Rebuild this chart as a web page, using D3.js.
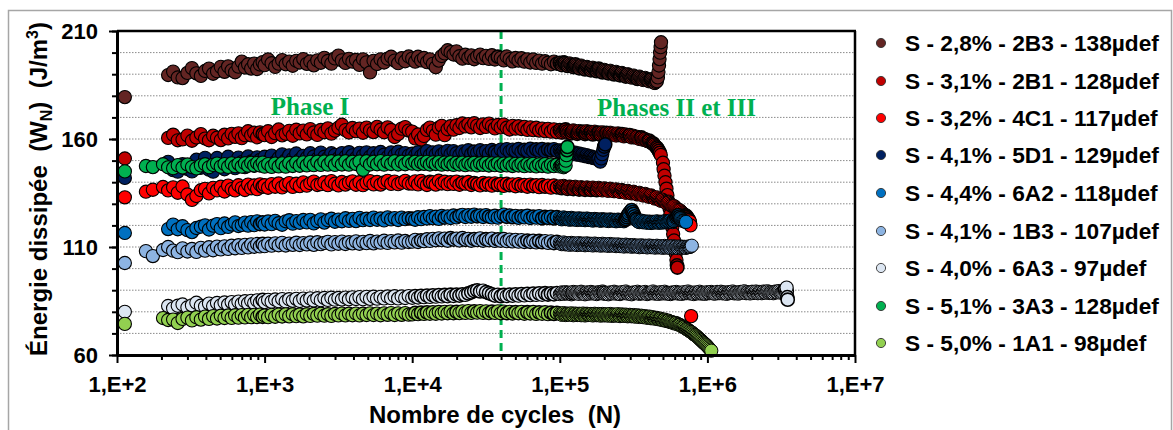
<!DOCTYPE html>
<html><head><meta charset="utf-8">
<script src="https://cdn.jsdelivr.net/npm/d3@7"></script>
<style>
body{margin:0;background:#fff;}
svg{display:block;}
text{font-family:"Liberation Sans",Arial,sans-serif;font-weight:bold;fill:#000;}
</style></head><body>
<svg id="c" width="1173" height="430"></svg>
<script>
// ---------- DATA ----------
const cycles = [113,
 157,175,205,222,240,258,278,300,322,345,370,395,420,448,476,505,535,566,598,631,665,700,736,773,811,850,890,930,970,
 1000,1056,1116,1179,1245,1315,1390,1468,1551,1638,1730,1828,1931,2039,2154,2276,2404,2540,2683,2834,2994,3162,3340,3529,3728,3938,4160,4394,4642,4903,5179,5471,5780,6105,6449,6813,7197,7602,8031,8484,8962,9467,
 10000,10470,10960,11480,12020,12590,13180,13800,14450,15140,15850,16600,17380,18200,19050,19950,20890,21880,22910,23990,25120,26300,27540,28840,30200,31620,33110,34670,36310,38020,39810,41690,43650,45710,47860,50120,52480,54950,57540,60260,63100,66070,69180,72440,75860,79430,83180,87100,91200,95500,
 100000,101500,103100,104700,106200,107800,109500,111200,112900,114600,116400,118200,119900,121700,123600,125500,127400,129400,131300,133300,135400,137500,139600,141700,143800,146000,148300,150600,152800,155100,157500,159900,162400,164900,167400,170000,172500,175100,177800,180500,183300,186100,188900,191800,194700,197700,200700,203800,206900,210100,213300,216600,219800,223200,226600,230100,233600,237200,240800,244500,248200,252000,255800,259700,263700,267700,271800,276000,280100,284400,288700,293100,297600,302100,306800,311500,316200,321000,326000,331000,336000,341100,346300,351600,357000,362500,367900,373500,379300,385100,390900,396900,403000,409200,415300,421600,428100,434600,441300,448000,454900,461900,468900,476100,483300,490700,498100,505700,513500,521300,529300,537400,545500,553800,562300,570900,579600,588500,597500,606600,615800,625200,634800,644500,654300,664300,674400,684700,695200,705800,716600,727500,738600,749900,761300,772900,784700,796700,808900,821300,833700,846400,859400,872500,885800,899300,913100,927000,941200,955600,970100,984900,1000000,1015000,1030800,1047000,1062500,1079000,1095200,1112000,
 1129000,1146000,1164000,1182000,1199000,1217000,1236000,1255000,1274000,1294000,1313000,1333000,1354000,1375000,1396000,1417000,1438000,1460000,1483000,1506000,1528000,1551000,1575000,1599000,1624000,1649000,1674000,1700000,1725000,1751000,1778000,1805000,1833000,1861000,1889000,1918000,1947000,1977000,2007000,2038000,2069000,2101000,2133000,2166000,2198000,2232000,2266000,2301000,2336000,2372000,2408000,2445000,2482000,2520000,2558000,2597000,2637000,2677000,2718000,2759000,2801000,2844000,2887000,2931000,2976000,3021000,3068000,3115000,3162000,3210000,3260000,3310000,3360000,3411000,3463000];

const seriesNames = ["S - 2,8% - 2B3 - 138µdef","S - 3,1% - 2B1 - 128µdef","S - 3,2% - 4C1 - 117µdef","S - 4,1% - 5D1 - 129µdef","S - 4,4% - 6A2 - 118µdef","S - 4,1% - 1B3 - 107µdef","S - 4,0% - 6A3 - 97µdef","S - 5,1% - 3A3 - 128µdef","S - 5,0% - 1A1 - 98µdef"];
const seriesColors = ["#632523","#C00000","#FF0000","#002060","#0070C0","#8DB4E2","#DCE6F2","#00B050","#92D050"];

const w2B3 = [179.4,
 null,null,null,189.6,191.2,188.5,188.2,190.6,192.8,190.4,189.2,191.5,192.6,190.2,191.4,193.4,191.1,193.6,191.8,190.9,193.5,195.8,193.1,194.6,192.6,194.9,192.4,194.5,195.6,
 194.2,196.8,195.1,193.4,194.9,196.5,194.6,195.8,193.9,196.2,195.4,197,194.8,195.9,194.1,196.4,195.3,197.6,196.1,194.9,197.3,198.6,196.4,195.2,197.1,195.8,196.6,194.3,196.9,195.5,190.8,196.2,194.7,196.9,195.4,197.2,198.1,196.3,195.1,197.4,196,198.2,
 197.2,195.8,198.1,196.4,197.5,195.6,196.9,194.8,193.2,196.3,198.4,199.6,201.1,200.2,199.1,200.6,198.3,197.2,199,197.6,198.7,196.9,198.2,199.1,197.4,198.5,197.1,198.8,196.8,198.1,197.6,196.4,198.2,197,195.9,197.5,196.3,197.4,195.8,196.9,195.4,196.8,195.2,196.3,194.9,196,195.3,194.6,195.8,194.9,
 195.3,194.6,194.2,195,195.6,195.2,194.6,194.1,193.8,194.5,195,194.5,194.1,193.6,193.3,194,194.6,194,193.5,193,192.7,193.5,194,193.5,193.1,192.6,192.2,192.9,193.4,193,192.6,192.1,191.8,192.5,193,192.5,192.1,191.7,191.4,192.1,192.6,192,191.5,191.1,190.8,191.5,192,191.6,191.2,190.7,190.4,191.1,191.6,191.2,190.7,190.2,189.9,190.6,191.1,190.6,190.2,189.8,189.5,190.1,190.6,190.1,189.6,189.2,188.9,189.5,190,189.6,189.1,188.7,188.4,188.9,189.4,188.9,188.5,188.1,187.8,188.4,188.9,188.4,188,187.6,187.3,187.8,188.3,187.8,187.4,187,186.7,187.2,187.6,187,186.5,186.1,185.9,186.4,186.8];
const tail2B3 = [[462000,188.5],[466000,191],[470000,194],[474000,197],[478000,200],[482000,202.5],[485000,204.8]];

const w2B1 = [151,
 null,null,null,160.5,162,159.4,159.8,161.6,159.2,160.7,162.3,160.2,159.4,161.5,160.6,159.5,162,160.3,162.4,161,162.6,160.4,161.8,163.6,161.7,162.9,160.8,163.1,162.2,
 161.8,163.6,160.9,162.7,164.4,161.7,162.4,163.8,161.5,164.3,162.6,163.9,162.1,164.6,163,161.9,164.2,163.1,164.9,162.5,163.8,165.2,166.6,164.1,163,165.1,163.6,164.8,162.9,165.3,164,163.2,165.6,164.3,163.1,165.4,164.2,160.9,162.3,164.8,165.5,163.9,
 163.4,160.3,162.1,159.8,161.4,164.2,165.3,163.8,162,165.2,166.1,161.8,164.5,165.9,164.3,166.4,165.1,167.2,165.8,166.9,165.4,167.3,166.2,165.1,166.8,165.6,167.1,166,164.9,166.5,165.3,166.7,165.2,164.4,166.1,164.8,165.9,164.6,165.6,164.2,165.4,164.1,165.2,163.9,164.8,163.6,164.7,163.4,164.5,163.2,
 164.1,163.4,162.9,163.2,163.8,164.2,164.4,163.5,162.8,163.1,163.5,163,162.6,163.4,164,163.6,163.1,162.7,162.4,163,163.7,163.2,162.8,163.1,163.4,162.8,162.3,162.9,163.6,163.2,162.7,163,163.2,162.6,162.1,162.8,163.4,162.9,162.5,162.7,163,162.4,162,162.6,163.1,162.6,162.2,162.4,162.8,162.2,161.8,162.3,162.9,162.5,162,162.3,162.5,162,161.6,162.1,162.6,162.2,161.7,162,162.2,161.6,161.2,161.7,162.1,161.7,161.3,161.6,161.8,161.2,160.7,161.1,161.5,161,160.6,160.8,161,160.5,160,160.4,160.7,160.1,159.6,159.8,160,159.5,159,159.2,159.3,158.7,158.2,158.1,158,157.4,156.8,156.4,156,155.3,154.5,153.6,152.6];
const tail2B1 = [[500000,149],[505000,146],[512000,143],[520000,140],[528000,137],[536000,134],[545000,131],[553000,128],[561000,125],[570000,122],[578000,119],[586000,116],[594000,113],[602000,110],[610000,107],[617000,104],[622000,101.5],[626000,100.5]];

const w4C1 = [133,
 135.6,136.5,137.8,136.2,137.6,135.1,138,134.3,131.8,133.6,136.3,136.9,134.8,137.4,136.2,137.9,135.7,138.4,136.8,136.2,138.6,137.3,136.4,138.9,137.2,138.5,136.8,139,137.9,
 138.6,137.4,139.1,137.9,139.4,137.6,138.8,139.6,137.8,139.3,138.2,139.9,138.4,139.5,140.3,138.7,139.1,140,138.6,140.5,139.3,138.5,140.1,138.9,139.8,140.4,138.8,140,138.6,139.7,140.5,139,140.1,138.9,139.9,140.6,139.2,140.3,139.1,139.8,140.6,139.4,
 139.3,140.4,139,140.6,139.5,138.7,140.2,139.9,138.9,140.7,139.4,140.2,139.1,140,139.2,140.3,138.8,139.8,139.3,140.1,138.7,139.6,139.1,138.5,139.7,138.9,139.4,138.4,139.5,138.8,139.2,138.3,139.3,138.6,139,138.1,139.1,138.4,138.7,137.9,138.9,138.2,138.6,137.7,138.7,137.9,138.4,137.5,138.5,137.6,
 138.1,137.6,137.2,137.8,138.3,137.9,137.5,137.1,136.9,137.5,138,137.7,137.3,137,136.8,137.4,137.9,137.5,137.1,136.8,136.6,137.2,137.7,137.3,137,136.7,136.5,137.1,137.6,137.2,136.9,136.6,136.4,137,137.5,137.1,136.8,136.5,136.3,136.9,137.4,137,136.7,136.4,136.2,136.7,137.2,136.8,136.5,136.2,136,136.5,137,136.6,136.3,136,135.8,136.3,136.7,136.3,136,135.7,135.5,136,136.4,136,135.7,135.4,135.1,135.6,136,135.6,135.3,135,134.8,135.2,135.6,135.2,134.9,134.6,134.3,134.7,135.1,134.7,134.4,134.1,133.8,134.2,134.6,134.2,133.8,133.5,133.2,133.5,133.9,133.5,133.1,132.7,132.4,132.7,133,132.5,132.1,131.7,131.4,131.7,131.9,131.4,130.9,130.5,130.2,130.4,130.5,130,129.5,129.1,128.8,128.9,128.9,128.4,127.9,127.5,127.1,127,126.9,126.4,125.9,125.5,125.1,124.8,124.5,123.9,123.2,122.5,121.8];
const tail4C1 = [[768000,120],[776000,78]];

const w5D1 = [142,
 null,null,null,149.4,145.6,144.9,148.3,146.1,145,150.4,146.7,151.3,145.8,144.9,151.2,147.6,146,151.8,148.2,146.5,151.4,149.3,147,151.9,149.6,147.6,151.5,150.3,148.7,
 151.8,149.7,152.3,149.3,151.2,152.9,150.2,152.4,150.8,153.3,150.4,152.2,151.3,153.4,151.9,150.8,153.7,151.8,151.2,153.4,152.6,151.1,153.5,151.8,153.9,152.4,151.2,153.6,152.3,153.8,151.8,153.4,152.2,154,152.7,151.6,153.8,152.5,154.1,152.8,153.5,152.3,
 153.2,152.4,153.9,152.1,153.3,154.4,152.6,153.8,152.9,154.3,152.7,153.7,154.5,153,154.4,153.4,152.6,154.3,153.5,154.8,153.1,154.2,153.6,154.8,153.7,154.4,153.3,154.9,154,153.4,155.1,154,155.3,154.2,155.1,154.4,155.4,154.1,155,154.5,155.5,154.3,155.2,154.6,155.4,154.2,155.1,154.7,155.3,154.5,
 154.8,154.3,153.9,154.3,154.6,154.1,153.6,154,154.3,153.8,153.3,153.7,154,153.5,153,153.3,153.7,153.2,152.7,153,153.3,152.8,152.4,152.7,152.9,152.4,152,152.2,152.5,152,151.6,151.8,152,151.6,151.2,151.3,151.5,151.1,150.7,150.8,150.9];
const tail5D1 = [[188000,149.5],[191000,151],[194000,153],[197000,155],[200000,156.5],[203000,157.5]];

const w6A2 = [116.5,
 null,null,null,118.3,120.4,118.2,119.6,117.8,116.9,118.8,119.4,120,118.1,119.9,120.6,118.7,120.9,119.3,120.4,121.4,119.7,120.2,121.3,119.9,121.5,120.1,121.9,120.6,121.4,
 120.4,121.8,120.6,122.1,121,120.3,121.9,122.4,120.8,122,121.2,122.5,121.4,122.6,120.9,121.9,122.8,121.3,122.4,123.1,121.7,122.7,121.9,123.3,122.1,123,122,123.5,122.4,123.1,122.5,123.6,122.6,123.2,122.3,123.7,122.8,123.4,122.5,123.6,122.9,123.3,
 123.1,122.6,123.8,122.9,123.9,123.2,124.3,123.3,124,123,124.4,123.6,124.2,123.4,124.6,123.7,124.4,124.9,123.9,124.7,124,125,124.2,124.6,123.9,124.8,124.1,123.7,124.5,123.6,124.3,125,124,124.6,123.8,124.4,123.5,124.2,123.7,124.5,123.4,124.1,123.6,124.3,123.3,123.9,123.5,124,123.2,123.8,
 123.5,123.1,122.8,123.3,123.7,123.2,122.9,123.2,123.4,123,122.6,123,123.5,123.1,122.7,122.9,123.2,122.8,122.5,122.9,123.3,122.9,122.6,122.8,123.1,122.7,122.4,122.8,123.2,122.8,122.5,122.7,122.9,122.5,122.2,122.6,123,122.7,122.4,122.6,122.8,122.4,122.1,122.5,122.9,122.6,122.3,122.5,122.7,122.3,122,122.4,122.8,122.5,122.2,122.4,122.6,122.2,121.9,122.3,122.7,122.4,122.1,122.3,122.5,122.2,121.9,122.4,123,123.8,124.6,125.4,126.2,126.7,127.1,126.2,125.3,124.2,123.2,122.6,122,121.7,121.5,121.8,122.2,121.8,121.4,121.6,121.9,121.5,121.2,121.5,121.8,121.4,121.1,121.4,121.7,121.5,121.3,121.6,121.9,121.5,121.2,121.4,121.7,121.5,121.3,121.6,122,121.7,121.4,121.6,121.8,122,122.3,121.9,121.5,122,122.6,123.1,123.6,124.2,124.8,124.1,123.4,122.8,122.3,122.1,121.9,121.7,121.6];

const w1B3 = [102.6,
 108.1,105.8,108.6,110,108.3,107.6,109.4,107.9,109.1,107.7,109.6,108.3,109.9,108.5,110.2,108.9,110.3,109.1,110.6,109.4,110.8,109.6,111,109.8,111.2,110.1,111.4,110.3,111.5,
 110.4,111.5,110.6,111.7,110.8,111.9,110.7,111.6,111,112,110.9,111.8,111.2,112.1,111,112.2,111.3,111.9,112.4,111.2,112.3,111.5,112.5,111.4,112.2,111.7,112.6,111.5,112.4,111.8,112.8,111.7,112.5,112,112.9,111.9,112.7,112.1,113,112,112.8,112.3,
 112.5,113.3,112.3,113.1,112.7,113.6,112.8,113.8,113.1,114,113.2,113.9,112.9,114.1,113.4,113.9,113,114.2,113.3,113.8,112.9,113.7,113.2,114,112.9,113.6,113.1,113.9,112.8,113.5,112.9,113.7,112.7,113.4,112.6,113.3,112.5,113.2,112.3,113,112.4,112.9,112.1,112.8,112.2,112.7,111.9,112.6,111.8,112.4,
 112,111.6,111.3,111.7,112.1,111.6,111.2,111.5,111.8,111.4,111,111.5,111.9,111.5,111.1,111.4,111.7,111.3,110.9,111.3,111.8,111.4,111,111.3,111.6,111.2,110.8,111.2,111.7,111.3,110.9,111.2,111.5,111.1,110.7,111.1,111.6,111.2,110.8,111.1,111.4,111,110.6,111,111.5,111.1,110.7,111,111.3,110.9,110.5,110.9,111.4,111,110.6,110.9,111.2,110.8,110.4,110.8,111.2,110.8,110.4,110.7,111,110.6,110.2,110.6,111.1,110.7,110.3,110.6,110.9,110.5,110.1,110.5,110.9,110.5,110.2,110.4,110.7,110.3,109.9,110.3,110.8,110.4,110,110.3,110.6,110.2,109.8,110.2,110.7,110.3,109.9,110.2,110.5,110.1,109.7,110.1,110.6,110.2,109.8,110.1,110.4,110,109.6,110,110.5,110.1,109.7,110,110.3,109.9,109.5,109.9,110.4,110,109.6,109.9,110.2,109.8,109.5,109.9,110.3,110,109.7,109.9,110.1,109.8,109.6,109.9,110.2,110.1,110,110.3,110.6];

const w6A3 = [80,
 null,null,null,82.7,81.6,82.8,83.4,82,83,84.2,82.8,82.4,83.8,82.7,84.1,83,84.3,83.3,84.5,83.4,84.7,83.7,84.9,83.9,85.1,84.1,85.3,84.3,85.5,
 84.5,85.5,84.7,85.7,84.9,85.9,84.8,85.8,85.1,86,85,86.1,85.3,86.2,85.2,86.3,85.4,86.4,85.5,86.5,85.6,86.4,85.7,86.6,85.8,86.7,85.9,86.8,85.8,86.9,86,87,86.1,86.9,86.2,87.1,86.3,87.2,86.2,87.1,86.4,87.3,
 86.5,87.3,86.6,87.4,86.8,87.5,86.9,87.6,87,87.7,87.1,87.8,87.2,87.9,87.3,88,87.5,88.1,87.8,88.5,89,89.6,89.9,89.4,89.8,89.1,88.6,88.1,87.5,87.9,87.2,87.8,87.3,88,87.4,88.1,87.5,88.2,87.6,88.3,87.7,88.4,87.8,88.5,87.9,88.6,88,88.5,88.1,88.7,
 88.2,88.6,89,88.7,88.3,88.7,89.1,88.8,88.4,88.6,88.9,88.5,88.1,88.6,89.2,88.9,88.5,88.7,89,88.6,88.3,88.8,89.3,89,88.6,88.3,88.1,88.5,89,88.7,88.4,88.8,89.2,88.9,88.5,88.7,88.9,88.5,88.2,88.6,89.1,88.9,88.6,89,89.4,88.9,88.3,88.5,88.8,88.4,88.1,88.5,89,88.8,88.5,88.9,89.3,88.9,88.4,88.6,88.9,88.5,88.2,88.6,89.1,88.9,88.6,89,89.4,88.9,88.4,88.6,88.8,88.4,88.1,88.5,89,88.8,88.6,88.9,89.3,88.8,88.3,88.6,88.9,88.7,88.5,88.9,89.2,88.7,88.2,88.5,88.8,88.7,88.6,89,89.4,88.9,88.4,88.6,88.9,88.6,88.3,88.7,89.1,88.8,88.5,88.9,89.3,88.8,88.4,88.6,88.8,88.5,88.2,88.6,89,88.8,88.6,88.9,89.2,88.8,88.4,88.6,88.9,88.6,88.3,88.7,89.1,88.8,88.6,89,89.4,88.9,88.5,88.7,88.9,88.5,88.2,88.6,89,88.7,88.5,88.9,89.3,88.8,88.4,88.6,88.9,88.6,88.3,88.7,89.1,88.8,88.6,88.9,89.2,88.8,88.5,88.7,
 88.4,88.8,89.2,88.9,88.6,89,89.3,88.9,88.5,88.8,89,88.6,88.3,88.7,89.1,88.9,88.7,89.1,89.4,88.9,88.5,88.8,89,88.7,88.4,88.8,89.2,89,88.8,89.2,89.5,89,88.6,88.9,89.1,88.8,88.5,88.9,89.3,89.1,88.7,89,89.4,89,88.6,88.9,89.2,88.9,88.6,89,89.4,89.1,88.8,89.2,89.5,89.1,88.7,88.9,89.1,88.8,88.6,89,89.4,89.2,89,89.4,89.6,89.2,88.8,89,89.3,89.8,90.2,89.2,89.6];
const tail6A3 = [[3440000,91.2],[3480000,86.8],[3500000,85.6]];

const w3A3 = [145,
 147.5,147,148.3,146.9,146.5,147.9,146.8,148.2,147,146.4,147.8,148.3,146.9,148,148.6,147.2,148.4,147.1,148.7,147.4,148.5,147.2,148.8,147.6,149,147.8,148.9,147.7,149.1,
 147.2,148.4,147.1,148.6,147.3,148.7,147.2,148.9,147.5,149.1,147.6,149.2,147.8,149.4,147.9,149.5,148,149.6,148.1,149.7,148,149.6,148.2,149.7,148.1,149.5,148.4,149.6,145.8,149.7,148.2,149.5,148.3,149.8,148.1,149.4,148.4,149.7,148.2,149.5,148.3,149.6,
 148.6,149.5,148.3,149.3,148.5,149.4,148.2,149.2,148.4,149.3,148.1,149.1,148.3,149.2,148,149,148.2,149.1,147.9,148.9,148.1,149,147.8,148.8,148,148.9,147.7,148.7,147.9,148.8,147.6,148.6,147.8,148.7,147.5,148.5,147.7,148.6,147.4,148.4,147.6,148.5,147.3,148.3,147.5,148.4,147.2,148.2,147.4,148.1,
 147.3,147.8,148,147.4,146.9,147.3,147.6];
const tail3A3 = [[109800,150],[111000,152.5],[112000,154.8],[112600,156.3]];

const w1A1 = [74.4,
 null,null,77.1,76.2,76.4,74.8,76.7,77.3,76,77.5,76.4,77.8,76.7,78,76.9,78.2,77.1,78.3,77.2,78.4,77.3,78.5,77.4,78.6,77.5,78.6,77.6,78.7,77.7,
 78.3,77.5,78.6,77.7,78.7,77.8,78.8,77.9,78.9,78,78.7,77.9,78.9,78.1,79,78.2,79.1,78.2,78.9,78.1,79,78.3,79.2,78.3,79.1,78.4,79.2,78.3,79.1,78.5,79.3,78.5,79.2,78.4,79.3,78.6,79.4,78.5,79.3,78.6,79.4,78.7,
 78.8,79.5,78.9,79.6,79,79.7,79.1,79.8,79.1,79.9,79.2,80,79.3,80.1,79.3,80,79.4,80.2,79.5,80.3,79.5,80.2,79.6,80.3,79.5,80.2,79.4,80.1,79.5,80.2,79.3,80.1,79.4,80,79.2,79.9,79.3,80,79.1,79.8,79.2,79.9,79,79.7,79.1,79.8,78.9,79.6,79,79.5,
 79.3,78.9,78.6,79,79.4,78.9,78.5,78.8,79.2,78.9,78.6,79,79.3,78.8,78.4,78.8,79.2,78.8,78.5,78.8,79.1,78.7,78.4,78.8,79.2,78.7,78.3,78.7,79.1,78.8,78.5,78.7,79,78.6,78.3,78.7,79.1,78.7,78.4,78.7,79,78.6,78.2,78.6,79,78.6,78.3,78.6,78.9,78.5,78.2,78.6,79,78.5,78.1,78.4,78.8,78.5,78.2,78.5,78.9,78.4,78,78.4,78.8,78.4,78.1,78.4,78.7,78.3,77.9,78.2,78.6,78.2,77.9,78.2,78.5,78.1,77.7,78.1,78.4,78,77.6,77.9,78.2,77.8,77.5,77.7,78,77.6,77.2,77.5,77.8,77.4,77,77.2,77.5,77.1,76.8,77,77.2,76.8,76.5,76.6,76.8,76.4,76.1,76.2,76.4,76,75.7,75.8,75.9,75.5,75.2,75.2,75.2,74.9,74.6,74.7,74.8,74.4,74.1,74,73.9,73.5,73.2,73,72.9,72.5,72.1,71.9,71.7,71.3,71,70.7,70.4,70,69.6,69.3,69,68.6,68.2,67.8,67.4,67,66.6,66.1,65.7,65.3,64.9,64.5,64,63.5,63,62.5,62];

const seriesValues = [w2B3,w2B1,w4C1,w5D1,w6A2,w1B3,w6A3,w3A3,w1A1];
const seriesTails = [tail2B3,tail2B1,tail4C1,tail5D1,[],[],tail6A3,tail3A3,[]];

const xTickValues = [1e2,1e3,1e4,1e5,1e6,1e7];
const xTickLabels = ["1,E+2","1,E+3","1,E+4","1,E+5","1,E+6","1,E+7"];
const yTickValues = [60,110,160,210];
const yTickLabels = ["60","110","160","210"];
const yGridValues = [70,80,90,100,110,120,130,140,150,160,170,180,190,200];
const phaseBoundary = 40000;
const phaseLabels = ["Phase I","Phases II et III"];

// ---------- CHART ----------
const svg = d3.select("#c");
const L = 117, R = 855, T = 31, B = 355;
const x = d3.scaleLog().domain([1e2,1e7]).range([L,R]);
const y = d3.scaleLinear().domain([60,210]).range([B,T]);

svg.append("rect").attr("width",1173).attr("height",430).attr("fill","#fff");
svg.append("rect").attr("x",8.5).attr("y",10.5).attr("width",1163).attr("height",440)
  .attr("fill","none").attr("stroke","#a6a6a6").attr("stroke-width",1.5);

svg.append("g").selectAll("line").data(yGridValues).join("line")
  .attr("x1",L).attr("x2",R).attr("y1",d=>y(d)).attr("y2",d=>y(d))
  .attr("stroke","#8a8a8a").attr("stroke-width",1).attr("stroke-dasharray","1.5,1.5");

svg.append("line").attr("x1",x(phaseBoundary)).attr("x2",x(phaseBoundary)).attr("y1",T).attr("y2",B)
  .attr("stroke","#00B050").attr("stroke-width",3).attr("stroke-dasharray","8,5");

svg.append("line").attr("x1",L).attr("x2",R+1).attr("y1",T).attr("y2",T).attr("stroke","#000").attr("stroke-width",2.5);
svg.append("line").attr("x1",R).attr("x2",R).attr("y1",T).attr("y2",B).attr("stroke","#000").attr("stroke-width",2.5);

svg.append("text").attr("x",310).attr("y",115).attr("text-anchor","middle")
  .style("font-family","'Liberation Serif','Times New Roman',serif").style("font-size","25px").style("fill","#00B050").text(phaseLabels[0]);
svg.append("text").attr("x",597).attr("y",116)
  .style("font-family","'Liberation Serif','Times New Roman',serif").style("font-size","25px").style("fill","#00B050").text(phaseLabels[1]);

// markers: outline weight eased where markers pile up closely (Excel-like rendering)
seriesValues.forEach((vals,i)=>{
  const pts = [];
  vals.forEach((v,j)=>{ if(v!=null) pts.push([cycles[j],v]); });
  seriesTails[i].forEach(p=>pts.push(p));
  const sw = pts.map((p,k)=>{
    const q = pts[k+1] || pts[k-1];
    const d = Math.hypot(x(q[0])-x(p[0]), y(q[1])-y(p[1]));
    return d < 1.6 ? 1.0 : d < 3.3 ? 1.55 : 1.1;
  });
  svg.append("g").selectAll("circle").data(pts).join("circle")
    .attr("cx",d=>x(d[0])).attr("cy",d=>y(d[1])).attr("r",6.6)
    .attr("fill",seriesColors[i]).attr("stroke","#000").attr("stroke-width",(d,k)=>sw[k]);
});

const minorX = [];
for(let e=2;e<7;e++) for(let k=2;k<10;k++) minorX.push(k*Math.pow(10,e));
const gxMinor = svg.append("g").attr("transform",`translate(0,${B})`)
  .call(d3.axisBottom(x).tickValues(minorX).tickFormat("").tickSize(5).tickSizeOuter(0));
gxMinor.select(".domain").remove();
const gx = svg.append("g").attr("transform",`translate(0,${B})`)
  .call(d3.axisBottom(x).tickValues(xTickValues).tickFormat((d,i)=>xTickLabels[i]).tickSize(8).tickSizeOuter(0).tickPadding(13));
const yMinor = d3.range(60,211,10);
const gyMinor = svg.append("g").attr("transform",`translate(${L},0)`)
  .call(d3.axisLeft(y).tickValues(yMinor).tickFormat("").tickSize(5).tickSizeOuter(0));
gyMinor.select(".domain").remove();
const gy = svg.append("g").attr("transform",`translate(${L},0)`)
  .call(d3.axisLeft(y).tickValues(yTickValues).tickFormat((d,i)=>yTickLabels[i]).tickSize(8).tickSizeOuter(0).tickPadding(11));
svg.selectAll(".tick line").attr("stroke","#000").attr("stroke-width",2);
[gx,gy].forEach(g=>{
  g.select(".domain").attr("stroke","#000").attr("stroke-width",3);
  g.selectAll("text").style("font-family","'Liberation Sans',Arial,sans-serif").style("font-weight","bold").style("font-size","22px").attr("fill","#000");
});

svg.append("text").attr("x",495).attr("y",423).attr("text-anchor","middle").style("font-size","24px")
  .text("Nombre de cycles\u00A0\u00A0(N)");
const yt = svg.append("text").attr("transform","translate(47,189) rotate(-90)").attr("text-anchor","middle").style("font-size","24px");
yt.append("tspan").text("Énergie dissipée\u00A0\u00A0(W");
yt.append("tspan").attr("dy",5).style("font-size","16px").text("N");
yt.append("tspan").attr("dy",-5).text(")\u00A0\u00A0(J/m");
yt.append("tspan").attr("dy",-9).style("font-size","16px").text("3");
yt.append("tspan").attr("dy",9).text(")");

const legendY = [43,81,118,155,193,231,268,306,343];
const lg = svg.append("g");
seriesNames.forEach((n,i)=>{
  lg.append("circle").attr("cx",881).attr("cy",legendY[i]).attr("r",4.6)
    .attr("fill",seriesColors[i]).attr("stroke","#333").attr("stroke-width",0.9);
  lg.append("text").attr("x",905).attr("y",legendY[i]).attr("dy","0.36em").style("font-size","22.7px").text(n);
});
</script>
</body></html>
